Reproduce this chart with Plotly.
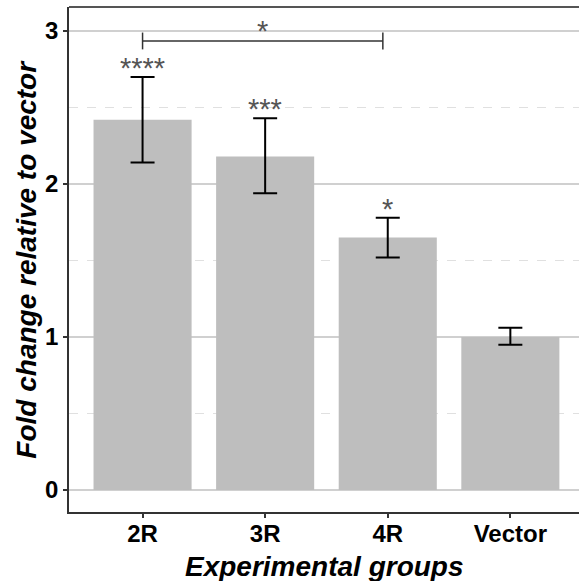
import plotly.graph_objects as go

# ---- data ----
groups = ["2R", "3R", "4R", "Vector"]
fold_change = [2.42, 2.18, 1.65, 1.00]
err_upper = [2.70, 2.43, 1.78, 1.06]
err_lower = [2.14, 1.94, 1.52, 0.95]
sig_labels = ["****", "***", "*", ""]
bracket_groups = ["2R", "4R"]
bracket_y = 2.935
bracket_label = "*"

y_ticks = [0, 1, 2, 3]

FONT = "Liberation Sans, Arial, sans-serif"
BAR = "#BEBEBE"
AX = "#333333"

plus = [u - v for u, v in zip(err_upper, fold_change)]
minus = [v - l for v, l in zip(fold_change, err_lower)]

fig = go.Figure()
fig.add_trace(go.Bar(
    x=groups, y=fold_change, width=0.8,
    marker=dict(color=BAR, line=dict(width=0)),
    error_y=dict(type="data", symmetric=False, array=plus, arrayminus=minus,
                 color="black", thickness=2, width=12),
    showlegend=False,
))

annotations = []
for g, top, lab in zip(groups, err_upper, sig_labels):
    if lab:
        annotations.append(dict(x=g, y=top - 0.06, xref="x", yref="y", text=lab,
                                showarrow=False, yanchor="bottom",
                                font=dict(family=FONT, size=29, color="#555555")))

i0 = groups.index(bracket_groups[0])
i1 = groups.index(bracket_groups[1]) - 0.04
shapes = [
    dict(type="line", xref="x", yref="y", x0=i0, x1=i1, y0=bracket_y, y1=bracket_y,
         line=dict(color=AX, width=1.5)),
    dict(type="line", xref="x", yref="y", x0=i0, x1=i0, y0=bracket_y - 0.055, y1=bracket_y + 0.055,
         line=dict(color=AX, width=1.5)),
    dict(type="line", xref="x", yref="y", x0=i1, x1=i1, y0=bracket_y - 0.055, y1=bracket_y + 0.055,
         line=dict(color=AX, width=1.5)),
    dict(type="line", xref="paper", yref="paper", x0=0, x1=1, y0=1, y1=1,
         line=dict(color="#555555", width=2)),
]
annotations.append(dict(x=(i0 + i1) / 2, y=bracket_y - 0.05, xref="x", yref="y", text=bracket_label,
                        showarrow=False, yanchor="bottom",
                        font=dict(family=FONT, size=29, color="#555555")))

# axis titles
annotations.append(dict(x=-0.084, y=0.5, xref="paper", yref="paper", textangle=-90,
                        text="<b><i>Fold change relative to vector</i></b>", showarrow=False,
                        xanchor="center", yanchor="middle",
                        font=dict(family=FONT, size=28, color="black")))
annotations.append(dict(x=0.5, y=-0.107, xref="paper", yref="paper",
                        text="<b><i>Experimental groups</i></b>", showarrow=False,
                        xanchor="center", yanchor="middle",
                        font=dict(family=FONT, size=28, color="black")))

fig.update_layout(
    width=579, height=581,
    margin=dict(l=69, r=0, t=7, b=69),
    paper_bgcolor="white", plot_bgcolor="white",
    bargap=0.2,
    annotations=annotations, shapes=shapes,
    font=dict(family=FONT),
)
fig.update_xaxes(
    type="category", range=[-0.6, 3.56],
    showgrid=False, showline=True, linecolor=AX, linewidth=1.5,
    ticks="outside", ticklen=4, tickcolor=AX, tickwidth=1.5,
    ticklabelstandoff=-5,
    tickfont=dict(family=FONT, size=24, color="black", weight="bold"),
)
fig.update_yaxes(
    range=[-0.144, 3.157], tickvals=y_ticks, ticktext=[str(t) for t in y_ticks],
    showgrid=True, gridcolor="#D0D0D0", gridwidth=1.5, zeroline=False,
    minor=dict(dtick=0.5, tick0=0, showgrid=True, gridcolor="#E0E0E0", griddash="dash", gridwidth=1),
    showline=True, linecolor=AX, linewidth=1.5,
    ticks="outside", ticklen=4, tickcolor=AX, tickwidth=1.5,
    tickfont=dict(family=FONT, size=24, color="black", weight="bold"),
)

fig.write_html("out.html", config={"displayModeBar": False},
               post_script="document.body.style.margin='0';")
